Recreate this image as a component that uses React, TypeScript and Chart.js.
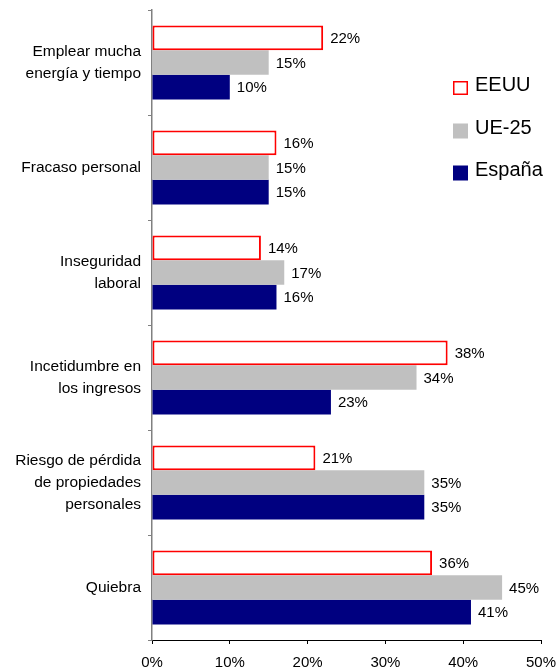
import React, { useEffect, useRef } from "react";
import { Chart, registerables } from "chart.js";

Chart.register(...registerables);

const categories: (string | string[])[] = [
  ["Emplear mucha", "energía y tiempo"],
  "Fracaso personal",
  ["Inseguridad", "laboral"],
  ["Incetidumbre en", "los ingresos"],
  ["Riesgo de pérdida", "de propiedades", "personales"],
  "Quiebra",
];
const seriesNames = ["EEUU", "UE-25", "España"];
const eeuu = [22, 16, 14, 38, 21, 36];
const ue25 = [15, 15, 17, 34, 35, 45];
const espana = [10, 15, 16, 23, 35, 41];
const xTicks = [0, 10, 20, 30, 40, 50];

const FONT = "'Liberation Sans', Arial, sans-serif";

const labelPlugin = {
  id: "valueLabels",
  afterDatasetsDraw(chart: any) {
    const ctx = chart.ctx;
    ctx.save();
    ctx.font = `15px ${FONT}`;
    ctx.fillStyle = "#000";
    ctx.textAlign = "left";
    ctx.textBaseline = "middle";
    chart.data.datasets.forEach((ds: any, i: number) => {
      const meta = chart.getDatasetMeta(i);
      meta.data.forEach((el: any, j: number) => {
        ctx.fillText(`${ds.data[j]}%`, el.x + 7, el.y + 1);
      });
    });
    ctx.restore();
  },
};

const legendPlugin = {
  id: "customLegend",
  afterDraw(chart: any) {
    const ctx = chart.ctx;
    ctx.save();
    const x = 453;
    const ys = [88, 130.5, 172.5];
    chart.data.datasets.forEach((ds: any, i: number) => {
      const y = ys[i];
      if (i === 0) {
        ctx.fillStyle = "#fff";
        ctx.fillRect(x, y - 7, 15, 14);
        ctx.strokeStyle = "#FF0000";
        ctx.lineWidth = 1.5;
        ctx.strokeRect(x + 0.75, y - 6.25, 13.5, 12.5);
      } else {
        ctx.fillStyle = ds.backgroundColor;
        ctx.fillRect(x, y - 7, 15, 15);
      }
      ctx.fillStyle = "#000";
      ctx.font = `20px ${FONT}`;
      ctx.textAlign = "left";
      ctx.textBaseline = "middle";
      ctx.fillText(seriesNames[i], x + 22, y - 2.5);
    });
    ctx.restore();
  },
};

export default function App() {
  const ref = useRef<HTMLCanvasElement>(null);
  useEffect(() => {
    if (!ref.current) return;
    const chart = new Chart(ref.current, {
      type: "bar",
      data: {
        labels: categories,
        datasets: [
          {
            label: seriesNames[0],
            data: eeuu,
            backgroundColor: "#FFFFFF",
            borderColor: "#FF0000",
            borderWidth: 2,
            borderSkipped: false,
          },
          {
            label: seriesNames[1],
            data: ue25,
            backgroundColor: "#C0C0C0",
            borderWidth: 0,
          },
          {
            label: seriesNames[2],
            data: espana,
            backgroundColor: "#000080",
            borderWidth: 0,
          },
        ],
      },
      options: {
        indexAxis: "y",
        responsive: false,
        animation: false,
        maintainAspectRatio: false,
        layout: { padding: { top: 10, right: 19, left: 0, bottom: 0 } },
        datasets: { bar: { categoryPercentage: 0.705, barPercentage: 1.0 } },
        plugins: {
          legend: { display: false },
          tooltip: { enabled: false },
        },
        scales: {
          x: {
            min: 0,
            max: 50,
            afterFit(scale: any) {
              scale.height = 29;
              scale.paddingLeft = 0;
              scale.paddingRight = 0;
              scale.paddingTop = 0;
              scale.paddingBottom = 0;
            },
            afterBuildTicks(scale: any) {
              scale.ticks = xTicks.map((v) => ({ value: v }));
            },
            ticks: {
              callback: (v: any) => `${v}%`,
              color: "#000",
              font: { family: FONT, size: 15 },
              padding: 10,
              maxRotation: 0,
            },
            grid: {
              drawOnChartArea: false,
              drawTicks: true,
              tickLength: 4,
              color: "#000",
            },
            border: { display: true, color: "#000", width: 1 },
          },
          y: {
            afterFit(scale: any) {
              scale.width = 152;
              scale.paddingLeft = 0;
              scale.paddingRight = 0;
              scale.paddingTop = 0;
              scale.paddingBottom = 0;
            },
            ticks: {
              color: "#000",
              font: { family: FONT, size: 15.5, lineHeight: 1.42 },
              padding: 7,
            },
            grid: {
              drawOnChartArea: false,
              drawTicks: true,
              tickLength: 4,
              color: "#808080",
              offset: true,
            },
            border: { display: true, color: "#808080", width: 1.5 },
          },
        },
      },
      plugins: [labelPlugin, legendPlugin],
    });
    return () => chart.destroy();
  }, []);
  return (
    <div style={{ position: "absolute", left: 0, top: 0, width: 560, height: 669, background: "#fff" }}>
      <canvas ref={ref} width={560} height={669} style={{ width: 560, height: 669, display: "block" }} />
    </div>
  );
}
